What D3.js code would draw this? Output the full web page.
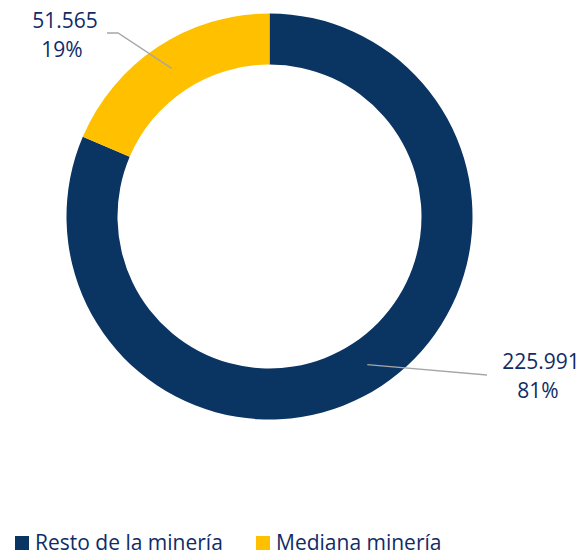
<!DOCTYPE html>
<html>
<head>
<meta charset="utf-8">
<script src="https://cdn.jsdelivr.net/npm/d3@7"></script>
<style>
  body { margin: 0; background: #fff; }
  text { font-family: "Open Sans", sans-serif; }
</style>
</head>
<body>
<div id="chart"></div>
<script>
// data
const categories = ["Resto de la minería", "Mediana minería"];
const values = [225991, 51565];
const valueLabels = ["225.991", "51.565"];
const colors = ["#0A3461", "#FFC000"];

const width = 583, height = 555;
const cx = 269.5, cy = 216.5;
const outerR = 203, innerR = 152;
const textColor = "#102C66";

const svg = d3.select("#chart")
    .append("svg")
    .attr("width", width)
    .attr("height", height);

const g = svg.append("g")
    .attr("transform", `translate(${cx},${cy})`);

const data = categories.map((c, i) => ({ name: c, value: values[i], label: valueLabels[i], color: colors[i] }));
const total = d3.sum(values);

const pie = d3.pie().sort(null).value(d => d.value);
const arc = d3.arc().innerRadius(innerR).outerRadius(outerR);
const midArc = d3.arc().innerRadius((innerR + outerR) / 2).outerRadius((innerR + outerR) / 2);

const arcs = pie(data);

g.selectAll(".slice")
    .data(arcs)
    .enter()
    .append("path")
    .attr("class", "slice")
    .attr("d", arc)
    .attr("fill", d => d.data.color);

// label layout (absolute positions relative to svg)
const labelPos = [
    { x: 541, y: 369, bend: null, end: [487, 375] },
    { x: 65, y: 28, bend: [118, 33], end: [107, 33] }
];

arcs.forEach((a, i) => {
    const c = midArc.centroid(a);
    const p = labelPos[i];
    const pts = [[cx + c[0], cy + c[1]]];
    if (p.bend) pts.push(p.bend);
    pts.push(p.end);
    svg.append("polyline")
        .attr("points", pts.map(q => q.join(",")).join(" "))
        .attr("fill", "none")
        .attr("stroke", "#A6A6A6")
        .attr("stroke-width", 1.3);

    const t = svg.append("text")
        .attr("text-anchor", "middle")
        .attr("fill", textColor)
        .attr("font-size", "21px");
    t.append("tspan").attr("x", p.x).attr("y", p.y).text(a.data.label);
    t.append("tspan").attr("x", p.x - 3).attr("y", p.y + 29)
        .text(d3.format(".0%")(a.data.value / total));
});

// legend
const legendX = [15, 256];
const legend = svg.selectAll(".legend")
    .data(data)
    .enter()
    .append("g")
    .attr("class", "legend")
    .attr("transform", (d, i) => `translate(${legendX[i]},536)`);
legend.append("rect")
    .attr("width", 14)
    .attr("height", 14)
    .attr("fill", d => d.color);
legend.append("text")
    .attr("x", 20)
    .attr("y", 14)
    .attr("fill", textColor)
    .attr("font-size", "21px")
    .text(d => d.name);
</script>
</body>
</html>
